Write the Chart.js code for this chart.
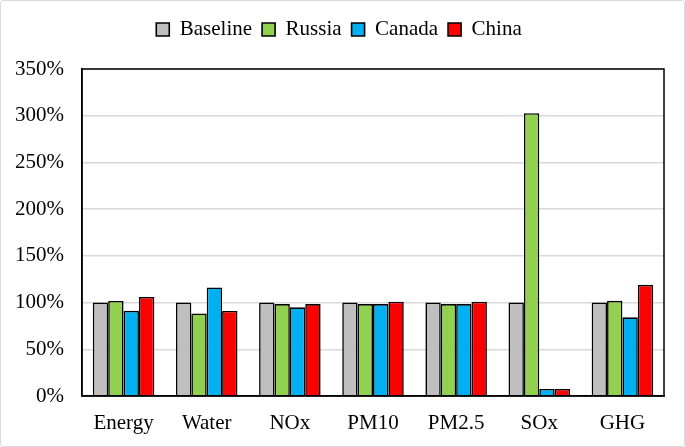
<!DOCTYPE html>
<html lang="en">
<head>
    <meta charset="UTF-8">
    <title>Relative impacts by source</title>
    <script src="https://cdn.jsdelivr.net/npm/chart.js"></script>
    <style>
        html, body { margin: 0; padding: 0; background: #fff; }
        #wrap { width: 685px; height: 447px; box-sizing: border-box; border: 1px solid #d9d9d9; border-radius: 3px; }
    </style>
</head>
<body>
    <div id="wrap"><canvas id="impactChart" width="683" height="445"></canvas></div>

    <script>
        // values in % of baseline
        const categories = ['Energy', 'Water', 'NOx', 'PM10', 'PM2.5', 'SOx', 'GHG'];
        const baseline = [100, 100, 100, 100, 100, 100, 100];
        const russia   = [101.7, 88.4, 98.4, 98.4, 98.4, 302.7, 101.9];
        const canada   = [91.2, 116.2, 94.9, 98.4, 98.4, 7.5, 84.2];
        const china    = [106, 91, 98.4, 101, 101, 7.5, 119];
        const yTicks   = [0, 50, 100, 150, 200, 250, 300, 350];

        const font = { family: '"Liberation Serif", "Times New Roman", serif', size: 21 };

        // black frame around the plot area
        const frame = {
            id: 'frame',
            afterDraw(chart) {
                const a = chart.chartArea, ctx = chart.ctx;
                ctx.save();
                ctx.strokeStyle = '#000';
                ctx.lineWidth = 1.5;
                ctx.strokeRect(a.left, a.top, a.right - a.left, a.bottom - a.top);
                ctx.restore();
            }
        };

        // extra space under the legend
        const legendGap = {
            id: 'legendGap',
            beforeInit(chart) {
                const fit = chart.legend.fit;
                chart.legend.fit = function () {
                    fit.bind(chart.legend)();
                    this.height += 19;
                };
            }
        };

        function series(label, data, color) {
            return {
                label: label,
                data: data,
                backgroundColor: color,
                borderColor: '#000',
                borderWidth: 1.6,
                borderSkipped: 'bottom'
            };
        }

        new Chart(document.getElementById('impactChart'), {
            type: 'bar',
            data: {
                labels: categories,
                datasets: [
                    series('Baseline', baseline, '#bfbfbf'),
                    series('Russia', russia, '#92d050'),
                    series('Canada', canada, '#00b0f0'),
                    series('China', china, '#ff0000')
                ]
            },
            options: {
                responsive: false,
                animation: false,
                layout: { padding: { top: 8, right: 20, bottom: 0, left: 13 } },
                datasets: { bar: { categoryPercentage: 0.74, barPercentage: 1.0 } },
                plugins: {
                    tooltip: { enabled: false },
                    legend: {
                        position: 'top',
                        labels: {
                            color: '#000',
                            font: font,
                            boxWidth: 13,
                            boxHeight: 13,
                            padding: 10,
                            useBorderRadius: false
                        }
                    }
                },
                scales: {
                    x: {
                        afterFit(axis) { axis.height = 50; },
                        grid: { display: false },
                        border: { color: '#000', width: 1.5 },
                        ticks: { color: '#000', font: font, padding: 7 }
                    },
                    y: {
                        min: 0,
                        max: 350,
                        afterFit(axis) { axis.width = 68; },
                        afterBuildTicks(axis) { axis.ticks = yTicks.map(v => ({ value: v })); },
                        grid: { color: '#d9d9d9', lineWidth: 1.5, drawTicks: false },
                        border: { color: '#000', width: 1.5 },
                        ticks: { color: '#000', font: font, padding: 18, callback: v => v + '%' }
                    }
                }
            },
            plugins: [frame, legendGap]
        });
    </script>
</body>
</html>
